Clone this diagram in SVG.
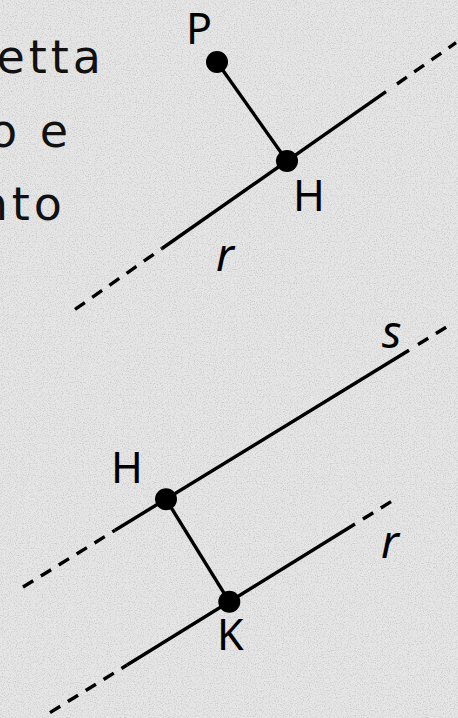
<svg xmlns="http://www.w3.org/2000/svg" width="458" height="718" viewBox="0 0 458 718">
<defs>
<filter id="grain" x="0" y="0" width="100%" height="100%">
<feTurbulence type="fractalNoise" baseFrequency="0.85" numOctaves="2" seed="3" result="n"/>
<feColorMatrix in="n" type="matrix" values="0 0 0 0 0.5  0 0 0 0 0.5  0 0 0 0 0.5  0 0 0 -3 1.6"/>
</filter>
<style>
.ln{stroke:#000;stroke-width:3.4;fill:none;stroke-linecap:butt}
.ds{stroke:#000;stroke-width:3.4;fill:none;stroke-dasharray:12 9}
.pt{fill:#000}
.lb{font-family:"Noto Sans","Open Sans","DejaVu Sans",sans-serif;font-size:43px;fill:#000}
.it{font-style:italic;font-size:45px}
.tx{font-family:"DejaVu Sans","Noto Sans",sans-serif;font-size:46px;fill:#111;letter-spacing:4px;text-anchor:end}
</style>
</defs>
<rect width="458" height="718" fill="#e6e6e6"/>
<rect width="458" height="718" filter="url(#grain)" opacity="0.6"/>

<g id="text">
<text class="tx" x="105" y="73">etta</text>
<text class="tx" x="72" y="147">o e</text>
<text class="tx" x="66" y="220">nto</text>
</g>

<g id="connectors">
<!-- top figure: line r -->
<line class="ds" x1="75" y1="309.4" x2="162" y2="248.5"/>
<line class="ln" x1="162" y1="248.5" x2="386" y2="91.7"/>
<line class="ds" x1="397" y1="84" x2="456" y2="42.7"/>
<line class="ln" x1="217" y1="62" x2="287" y2="161"/>
<!-- bottom figure: line s -->
<line class="ds" x1="23" y1="587" x2="115" y2="530.3"/>
<line class="ln" x1="115" y1="530.3" x2="409" y2="350.2"/>
<line class="ds" x1="418" y1="344.5" x2="452" y2="323.7"/>
<!-- bottom figure: line r -->
<line class="ds" x1="50" y1="712.6" x2="127" y2="665"/>
<line class="ln" x1="127" y1="665" x2="355" y2="524"/>
<line class="ds" x1="363" y1="519" x2="396" y2="498.6"/>
<line class="ln" x1="166" y1="499.3" x2="229.3" y2="601.7"/>
</g>

<g id="P"><circle class="pt" cx="217" cy="62" r="11"/><text class="lb" x="186" y="44">P</text></g>
<g id="H1"><circle class="pt" cx="287" cy="161" r="11"/><text class="lb" x="293" y="211">H</text></g>
<g id="r1"><text class="lb it" x="216" y="271">r</text></g>
<g id="H2"><circle class="pt" cx="166" cy="499.3" r="11"/><text class="lb" x="111" y="483">H</text></g>
<g id="K"><circle class="pt" cx="229.3" cy="601.7" r="11"/><text class="lb" x="217" y="650">K</text></g>
<g id="s"><text class="lb it" x="382" y="348">s</text></g>
<g id="r2"><text class="lb it" x="381" y="558">r</text></g>
</svg>
